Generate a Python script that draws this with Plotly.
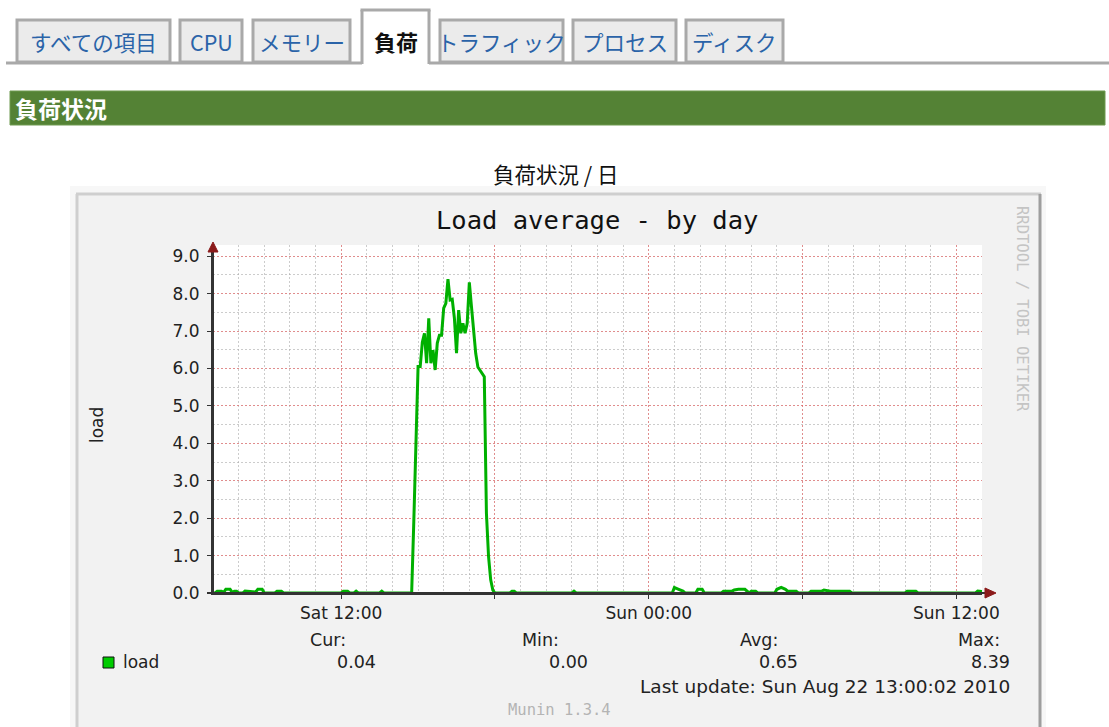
import plotly.graph_objects as go

W, H = 1109, 727

# ---------------- data ----------------
load_times = [
    "2010-08-21 07:00", "2010-08-21 07:05", "2010-08-21 07:10", "2010-08-21 07:20", "2010-08-21 07:25",
    "2010-08-21 07:30", "2010-08-21 07:40", "2010-08-21 07:45", "2010-08-21 07:50", "2010-08-21 07:55",
    "2010-08-21 08:00", "2010-08-21 08:10", "2010-08-21 08:15", "2010-08-21 08:25", "2010-08-21 08:30",
    "2010-08-21 08:35", "2010-08-21 08:40", "2010-08-21 08:45", "2010-08-21 08:55", "2010-08-21 09:00",
    "2010-08-21 09:25", "2010-08-21 09:30", "2010-08-21 09:40", "2010-08-21 09:45", "2010-08-21 12:00",
    "2010-08-21 12:05", "2010-08-21 12:15", "2010-08-21 12:20", "2010-08-21 12:30", "2010-08-21 12:35",
    "2010-08-21 12:40", "2010-08-21 13:30", "2010-08-21 13:35", "2010-08-21 13:40", "2010-08-21 14:45",
    "2010-08-21 14:50", "2010-08-21 14:55", "2010-08-21 15:00", "2010-08-21 15:05", "2010-08-21 15:10",
    "2010-08-21 15:15", "2010-08-21 15:20", "2010-08-21 15:25", "2010-08-21 15:30", "2010-08-21 15:35",
    "2010-08-21 15:40", "2010-08-21 15:45", "2010-08-21 15:50", "2010-08-21 15:55", "2010-08-21 16:00",
    "2010-08-21 16:05", "2010-08-21 16:10", "2010-08-21 16:15", "2010-08-21 16:20", "2010-08-21 16:25",
    "2010-08-21 16:30", "2010-08-21 16:35", "2010-08-21 16:40", "2010-08-21 16:45", "2010-08-21 16:50",
    "2010-08-21 16:55", "2010-08-21 17:00", "2010-08-21 17:05", "2010-08-21 17:10", "2010-08-21 17:15",
    "2010-08-21 17:20", "2010-08-21 17:25", "2010-08-21 17:30", "2010-08-21 17:35", "2010-08-21 17:40",
    "2010-08-21 17:45", "2010-08-21 17:50", "2010-08-21 17:55", "2010-08-21 18:00", "2010-08-21 18:35",
    "2010-08-21 18:40", "2010-08-21 18:45", "2010-08-21 18:50", "2010-08-21 21:00", "2010-08-21 21:05",
    "2010-08-21 21:10", "2010-08-22 00:55", "2010-08-22 01:00", "2010-08-22 01:10", "2010-08-22 01:20",
    "2010-08-22 01:25", "2010-08-22 01:50", "2010-08-22 01:55", "2010-08-22 02:05", "2010-08-22 02:10",
    "2010-08-22 02:50", "2010-08-22 02:55", "2010-08-22 03:15", "2010-08-22 03:20", "2010-08-22 03:30",
    "2010-08-22 03:45", "2010-08-22 03:50", "2010-08-22 03:55", "2010-08-22 04:00", "2010-08-22 04:10",
    "2010-08-22 04:15", "2010-08-22 04:55", "2010-08-22 05:00", "2010-08-22 05:10", "2010-08-22 05:20",
    "2010-08-22 05:25", "2010-08-22 05:30", "2010-08-22 05:45", "2010-08-22 05:50", "2010-08-22 06:15",
    "2010-08-22 06:20", "2010-08-22 06:45", "2010-08-22 06:50", "2010-08-22 07:05", "2010-08-22 07:50",
    "2010-08-22 07:55", "2010-08-22 10:00", "2010-08-22 10:05", "2010-08-22 10:25", "2010-08-22 10:30",
    "2010-08-22 12:45", "2010-08-22 12:50", "2010-08-22 13:00",
]
load_values = [
    0.00, 0.00, 0.05, 0.05, 0.02,
    0.10, 0.10, 0.02, 0.05, 0.05,
    0.00, 0.00, 0.05, 0.05, 0.03,
    0.05, 0.03, 0.10, 0.10, 0.00,
    0.00, 0.05, 0.05, 0.00, 0.00,
    0.05, 0.05, 0.00, 0.00, 0.05,
    0.00, 0.00, 0.05, 0.00, 0.00,
    1.90, 4.30, 6.05, 6.05, 6.70,
    6.94, 6.14, 7.34, 6.14, 6.49,
    5.96, 6.68, 6.89, 6.89, 7.61,
    7.74, 8.39, 7.83, 7.85, 7.35,
    6.41, 7.56, 6.94, 7.21, 6.94,
    7.21, 8.30, 7.65, 6.98, 6.40,
    6.04, 5.95, 5.87, 5.78, 2.13,
    0.97, 0.35, 0.08, 0.00, 0.00,
    0.05, 0.05, 0.00, 0.00, 0.05,
    0.00, 0.00, 0.15, 0.10, 0.05,
    0.00, 0.00, 0.10, 0.10, 0.00,
    0.00, 0.05, 0.05, 0.08, 0.10,
    0.10, 0.05, 0.00, 0.05, 0.05,
    0.00, 0.00, 0.10, 0.15, 0.10,
    0.05, 0.05, 0.05, 0.00, 0.00,
    0.05, 0.05, 0.08, 0.05, 0.05,
    0.00, 0.00, 0.05, 0.05, 0.00,
    0.00, 0.05, 0.04,
]

x_range = ["2010-08-21 07:00", "2010-08-22 13:00"]
x_tickvals = ["2010-08-21 12:00", "2010-08-21 18:00", "2010-08-22 00:00",
              "2010-08-22 06:00", "2010-08-22 12:00"]
x_ticktext = ["Sat 12:00", "", "Sun 00:00", "", "Sun 12:00"]
y_tickvals = [0, 1, 2, 3, 4, 5, 6, 7, 8, 9]
y_ticktext = ["0.0", "1.0", "2.0", "3.0", "4.0", "5.0", "6.0", "7.0", "8.0", "9.0"]

stat_labels = ["Cur:", "Min:", "Avg:", "Max:"]
stat_values = ["0.04", "0.00", "0.65", "8.39"]

tab_labels = ["すべての項目", "CPU", "メモリー", "負荷", "トラフィック", "プロセス", "ディスク"]
active_tab = "負荷"

# ---------------- helpers (page pixel -> paper) ----------------
def X(px):
    return min(max(px, 0), W) / W

def Y(py):
    return 1 - min(max(py, 0), H) / H

def rect(x0, y0, x1, y1, fill, line=None, lw=0, layer="below"):
    return dict(type="rect", xref="paper", yref="paper",
                x0=X(x0), x1=X(x1), y0=Y(y1), y1=Y(y0),
                fillcolor=fill, line=dict(color=line or fill, width=lw), layer=layer)

def hline(x0, x1, y, color, lw, layer="below"):
    return dict(type="line", xref="paper", yref="paper", x0=X(x0), x1=X(x1),
                y0=Y(y), y1=Y(y), line=dict(color=color, width=lw), layer=layer)

def vline(x, y0, y1, color, lw, layer="below"):
    return dict(type="line", xref="paper", yref="paper", x0=X(x), x1=X(x),
                y0=Y(y0), y1=Y(y1), line=dict(color=color, width=lw), layer=layer)

def text(s, x, y, size, color="#222", family="DejaVu Sans", xanchor="center", angle=0):
    return dict(text=s, x=X(x), y=Y(y), xref="paper", yref="paper", showarrow=False,
                xanchor=xanchor, yanchor="middle", textangle=angle,
                font=dict(size=size, color=color, family=family))

shapes = []
annotations = []

# ---------------- tabs ----------------
tab_boxes = [(17, 170), (180, 242), (253, 350), (362, 429), (440, 563), (573, 676), (686, 783)]
shapes.append(hline(6, 1109, 63, "#a9a9a9", 3))
for lab, (a, b) in zip(tab_labels, tab_boxes):
    if lab == active_tab:
        shapes.append(rect(a, 10, b, 66, "#ffffff"))
        shapes.append(vline(a, 10, 64, "#a9a9a9", 3))
        shapes.append(vline(b, 10, 64, "#a9a9a9", 3))
        shapes.append(hline(a - 1.5, b + 1.5, 10, "#a9a9a9", 3))
        annotations.append(text("<b>" + lab + "</b>", (a + b) / 2, 41, 22, "#111",
                                "Noto Sans CJK JP"))
    else:
        shapes.append(rect(a, 20, b, 62, "#ebebeb", "#a9a9a9", 3))
        annotations.append(text(lab, (a + b) / 2, 42, 21.5, "#2a63a8", "Noto Sans CJK JP"))

# ---------------- section header ----------------
shapes.append(rect(10, 91, 1105, 125, "#548235", "#6f9a50", 1))
annotations.append(text("<b>負荷状況</b>", 13, 108, 23, "#ffffff", "Noto Sans CJK JP", "left"))
annotations.append(text("負荷状況 / 日", 556, 174, 21.5, "#111", "Noto Sans CJK JP"))

# ---------------- RRD frame (kept inside the page) ----------------
shapes.append(rect(70, 186, 1046, 727, "#f7f7f7"))
shapes.append(rect(77, 194, 1040, 727, "#f2f2f2"))
shapes.append(hline(76, 1041, 194, "#cfcfcf", 3))
shapes.append(vline(77, 194, 727, "#cfcfcf", 3))
shapes.append(vline(1040, 194, 727, "#9e9e9e", 3))
# plot canvas (white)
shapes.append(rect(213, 245, 982, 593, "#ffffff"))

# axis extension + arrows
shapes.append(vline(213, 593, 250, "#333333", 2, "above"))
shapes.append(hline(207, 986, 593, "#333333", 2, "above"))
shapes.append(dict(type="path", xref="paper", yref="paper", layer="above",
                   path=f"M {X(208)},{Y(252)} L {X(213)},{Y(242)} L {X(218)},{Y(252)} Z",
                   fillcolor="#8b1a1a", line=dict(color="#8b1a1a", width=1)))
shapes.append(dict(type="path", xref="paper", yref="paper", layer="above",
                   path=f"M {X(985)},{Y(588)} L {X(996)},{Y(593)} L {X(985)},{Y(598)} Z",
                   fillcolor="#8b1a1a", line=dict(color="#8b1a1a", width=1)))

# title, watermark, axis label
annotations.append(text("Load average - by day", 597, 220, 25.5, "#111", "DejaVu Sans Mono"))
annotations.append(text("RRDTOOL / TOBI OETIKER", 1022, 309, 15.5, "#c4c4c4", "DejaVu Sans Mono", angle=90))
annotations.append(text("load", 97, 425, 17, "#222", angle=-90))
annotations.append(text("Munin 1.3.4", 559, 710, 15.5, "#b4b4b4", "DejaVu Sans Mono"))

# legend & stats
shapes.append(rect(103, 657, 114, 668, "#00cc00", "#111111", 1, "above"))
annotations.append(text("load", 121, 662, 17, "#222", xanchor="left"))
stat_label_right = [348, 561, 780, 1002]
stat_value_right = [378, 590, 800, 1012]
for lab, val, lx, vx in zip(stat_labels, stat_values, stat_label_right, stat_value_right):
    annotations.append(text(lab, lx, 640, 17.5, "#222", xanchor="right"))
    annotations.append(text(val, vx, 662, 17.5, "#222", xanchor="right"))
annotations.append(text("Last update: Sun Aug 22 13:00:02 2010", 1012, 686, 18.5, "#222", xanchor="right"))

# ---------------- figure ----------------
fig = go.Figure()
fig.add_trace(go.Scatter(
    x=load_times, y=load_values, mode="lines",
    line=dict(color="#00b000", width=3),
    hoverinfo="skip", showlegend=False,
))

fig.update_layout(
    width=W, height=H, autosize=False,
    margin=dict(l=0, r=0, t=0, b=0, pad=0, autoexpand=False),
    paper_bgcolor="#ffffff",
    plot_bgcolor="rgba(0,0,0,0)",
    showlegend=False,
    shapes=shapes,
    annotations=annotations,
    xaxis=dict(
        type="date", domain=[X(213), X(982)], range=x_range, automargin=False,
        tickmode="array", tickvals=x_tickvals, ticktext=x_ticktext,
        ticks="outside", ticklen=4, tickcolor="#333", tickwidth=1,
        tickfont=dict(family="DejaVu Sans", size=17, color="#222"),
        showline=True, linecolor="#333", linewidth=2,
        showgrid=True, gridcolor="rgba(240,90,90,0.55)", griddash="2px,2px", gridwidth=1,
        minor=dict(dtick=3600000, tick0="2010-08-21 07:00", showgrid=True,
                   gridcolor="rgba(170,170,170,0.6)", griddash="2px,2px", gridwidth=1),
        zeroline=False, fixedrange=True,
    ),
    yaxis=dict(
        domain=[Y(593), Y(245)], range=[0, 9.3], automargin=False,
        tickmode="array", tickvals=y_tickvals, ticktext=y_ticktext,
        ticks="outside", ticklen=4, tickcolor="#333", tickwidth=1,
        tickfont=dict(family="DejaVu Sans", size=17, color="#222"),
        ticklabelstandoff=4,
        showline=True, linecolor="#333", linewidth=2,
        showgrid=True, gridcolor="rgba(240,90,90,0.55)", griddash="2px,2px", gridwidth=1,
        minor=dict(dtick=0.5, tick0=0, showgrid=True,
                   gridcolor="rgba(170,170,170,0.6)", griddash="2px,2px", gridwidth=1),
        zeroline=False, fixedrange=True,
    ),
)

fig.write_html(
    "out.html",
    config={"displayModeBar": False},
    post_script="document.body.style.margin='0';document.body.style.overflow='hidden';",
)
